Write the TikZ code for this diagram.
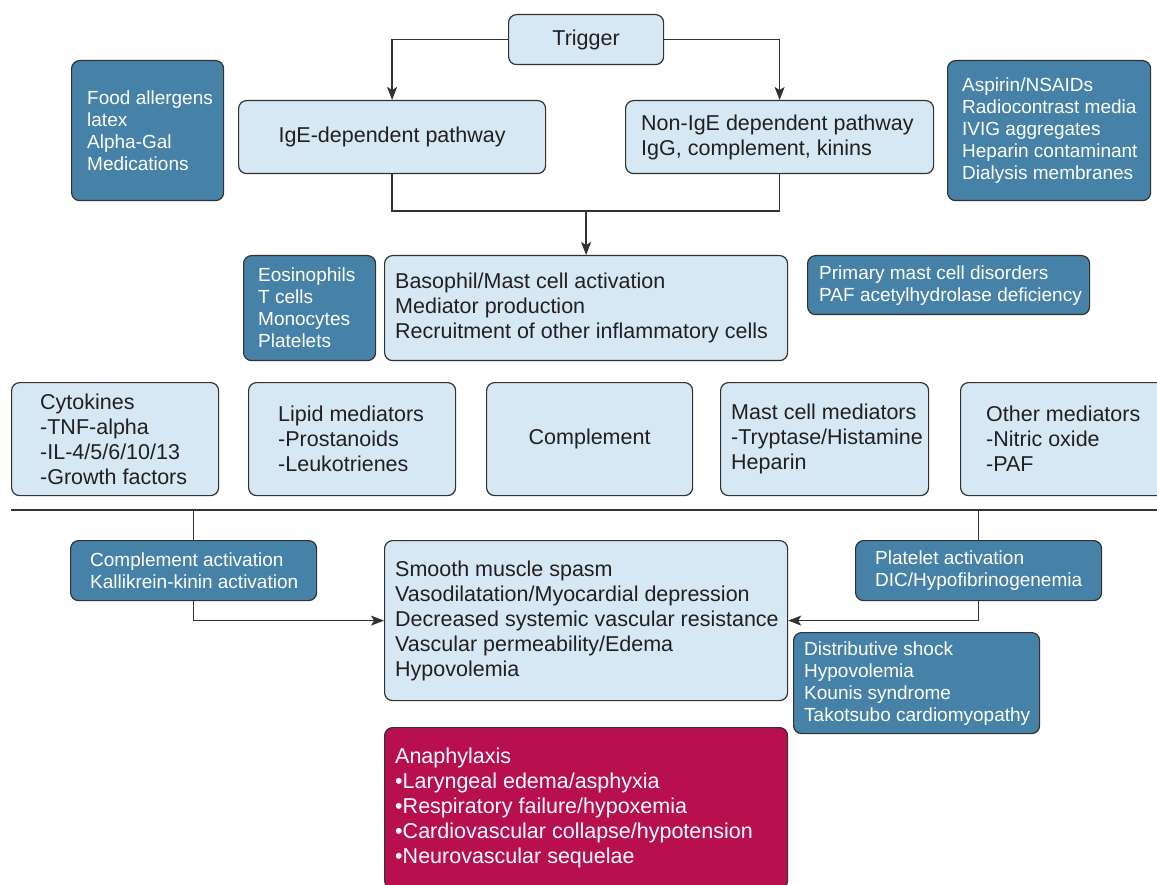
\documentclass[tikz,border=0pt]{standalone}
\usepackage{fontspec}
\setmainfont{Liberation Sans}
\usetikzlibrary{arrows.meta}
\definecolor{lightfill}{RGB}{214,232,244}
\definecolor{darkfill}{RGB}{70,130,168}
\definecolor{redfill}{RGB}{184,15,78}
\definecolor{edge}{RGB}{50,50,50}
\definecolor{ink}{RGB}{35,31,32}
\tikzset{
  basebox/.style={draw=edge, line width=1.2pt, rounded corners=8pt, inner sep=0pt},
  lbox/.style={basebox, fill=lightfill, text=ink, font=\fontsize{21.5}{25}\selectfont},
  dbox/.style={basebox, fill=darkfill, text=white, font=\fontsize{19}{22}\selectfont},
  rbox/.style={basebox, fill=redfill, text=white, font=\fontsize{21.5}{25}\selectfont},
  lboxtxt/.style={inner sep=0pt, align=left, text=ink, font=\fontsize{21.5}{25}\selectfont},
  dboxtxt/.style={inner sep=0pt, align=left, text=white, font=\fontsize{19}{22}\selectfont},
  rboxtxt/.style={inner sep=0pt, align=left, text=white, font=\fontsize{21.5}{25}\selectfont},
  conn/.style={draw=edge, line width=1.3pt},
  arr/.style={conn, -{Stealth[length=13pt,width=10pt,inset=3pt]}},
}
% style, name, x, y, w, h, pad, text
\newcommand{\bx}[8]{%
  \node[#1, minimum width=#5pt, minimum height=#6pt, anchor=north west] (#2) at (#3,-#4) {};
  \node[#1txt, anchor=west] (#2t) at ([xshift=#7pt]#2.west) {#8};}
\begin{document}
\begin{tikzpicture}[x=1pt,y=1pt]
\useasboundingbox (0,0) rectangle (1157,-885);
% top
\node[lbox, minimum width=155pt, minimum height=50pt, anchor=north west] (trig) at (508,-14) {Trigger};
\node[lbox, minimum width=307pt, minimum height=73pt, anchor=north west] (ige) at (238,-100) {IgE-dependent pathway};
\bx{lbox}{nonige}{625}{100}{308}{73}{16}{Non-IgE dependent pathway\\IgG, complement, kinins}
\bx{dbox}{food}{71}{60}{152}{140}{16}{Food allergens\\latex\\Alpha-Gal\\Medications}
\bx{dbox}{asp}{947}{60}{203}{140}{15}{Aspirin/NSAIDs\\Radiocontrast media\\IVIG aggregates\\Heparin contaminant\\Dialysis membranes}
% middle
\bx{dbox}{eos}{243}{255}{132}{105}{15}{Eosinophils\\T cells\\Monocytes\\Platelets}
\bx{lbox}{bas}{384}{255}{403}{105}{11}{Basophil/Mast cell activation\\Mediator production\\Recruitment of other inflammatory cells}
\bx{dbox}{prim}{807}{255}{282}{59}{12}{Primary mast cell disorders\\PAF acetylhydrolase deficiency}
% mediators row
\bx{lbox}{cyt}{11}{382}{207}{113}{29}{Cytokines\\-TNF-alpha\\-IL-4/5/6/10/13\\-Growth factors}
\bx{lbox}{lip}{248}{382}{207}{113}{30}{Lipid mediators\\-Prostanoids\\-Leukotrienes}
\node[lbox, minimum width=206pt, minimum height=113pt, anchor=north west] (comp) at (486,-382) {Complement};
\bx{lbox}{mast}{720}{382}{208}{113}{11}{Mast cell mediators\\-Tryptase/Histamine\\Heparin}
\bx{lbox}{oth}{960}{382}{210}{113}{26}{Other mediators\\-Nitric oxide\\-PAF}
% separator
\coordinate (sl) at (11,-510);
\coordinate (sr) at (1157,-510);
\draw[conn] (sl) -- (sr);
% lower
\bx{dbox}{ca}{70}{540}{246}{60}{20}{Complement activation\\Kallikrein-kinin activation}
\bx{dbox}{pa}{855}{540}{246}{60}{20}{Platelet activation\\DIC/Hypofibrinogenemia}
\bx{lbox}{sm}{384}{540}{403}{160}{11}{Smooth muscle spasm\\Vasodilatation/Myocardial depression\\Decreased systemic vascular resistance\\Vascular permeability/Edema\\Hypovolemia}
\bx{dbox}{dist}{793}{632}{246}{101}{11}{Distributive shock\\Hypovolemia\\Kounis syndrome\\Takotsubo cardiomyopathy}
\bx{rbox}{ana}{384}{727}{403}{161}{11}{Anaphylaxis\\\textbullet Laryngeal edema/asphyxia\\\textbullet Respiratory failure/hypoxemia\\\textbullet Cardiovascular collapse/hypotension\\\textbullet Neurovascular sequelae}
% connectors
\draw[arr] (trig.west) -| (ige.north);
\draw[arr] (trig.east) -| (nonige.north);
\coordinate (join) at (bas.north |- 0,-211);
\draw[conn] (ige.south) |- (join) -| (nonige.south);
\draw[arr] (join) -- (bas.north);
\draw[conn] (ca.north |- sl) -- (ca.north);
\draw[arr] (ca.south) |- (sm.west);
\draw[conn] (pa.north |- sl) -- (pa.north);
\draw[arr] (pa.south) |- (sm.east);
\end{tikzpicture}
\end{document}
